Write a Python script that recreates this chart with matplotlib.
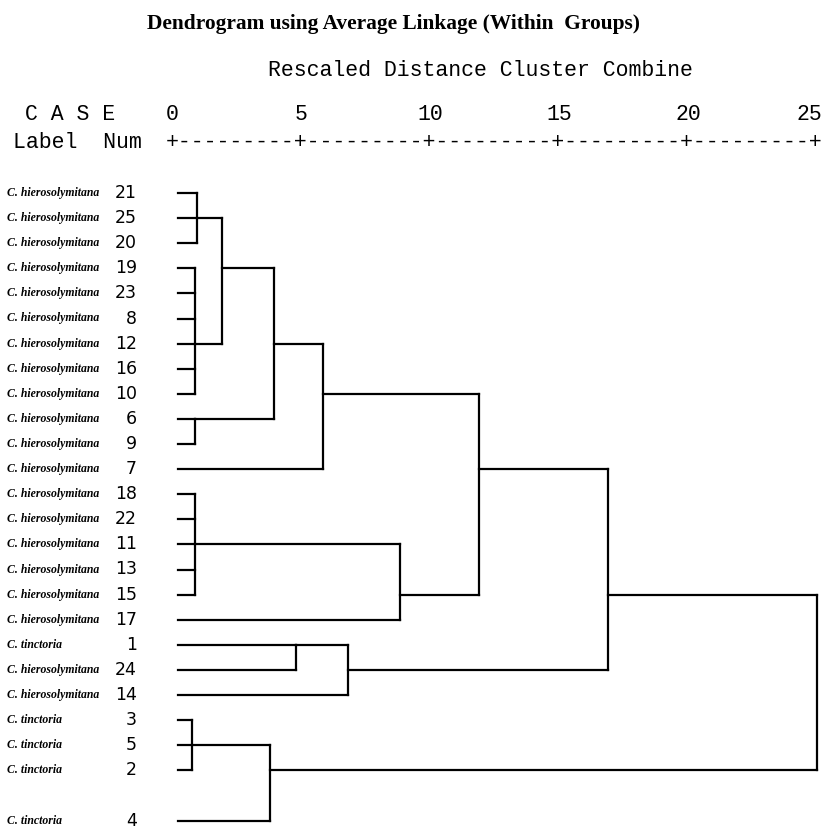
import numpy as np
import matplotlib
matplotlib.use('Agg')
import matplotlib.pyplot as plt

# leaves, top to bottom
case_nums = [21, 25, 20, 19, 23, 8, 12, 16, 10, 6, 9, 7, 18, 22, 11, 13, 15, 17,
             1, 24, 14, 3, 5, 2, 4]
HIER = 'C. hierosolymitana'
TINC = 'C. tinctoria'
case_labels = [HIER] * 18 + [TINC, HIER, HIER, TINC, TINC, TINC, TINC]

# merges: name, members (case numbers or earlier merges), rescaled distance,
# case whose row carries the joined cluster onwards
merge_names = ['A', 'B', 'AB', 'P69', 'ABP', 'C', 'D1', 'D', 'CD',
               'E1', 'E', 'CDE', 'F1', 'F', 'root']
merge_members = [[21, 25, 20], [19, 23, 8, 12, 16, 10], ['A', 'B'], [6, 9],
                 ['AB', 'P69'], ['ABP', 7], [18, 22, 11, 13, 15], ['D1', 17],
                 ['C', 'D'], [1, 24], ['E1', 14], ['CD', 'E'], [3, 5, 2],
                 ['F1', 4], ['CDE', 'F']]
merge_dist = [0.97, 0.89, 1.94, 0.89, 3.95, 5.85, 0.89, 8.84, 11.9,
              4.8, 6.82, 16.9, 0.78, 3.8, 25.0]
merge_via = [25, 12, 19, 6, 12, 10, 11, 15, 7, 1, 24, 15, 5, 2, None]

ticks = [0, 5, 10, 15, 20, 25]

W, H = 823, 831
fig = plt.figure(figsize=(W / 100, H / 100), dpi=100)
ax = fig.add_axes([0, 0, 1, 1])
ax.axis('off')

# page geometry in pixels
x0_px, x25_px = 172, 817
ppu = (x25_px - x0_px) / 25
row0_px, pitch = 193, 25.1
ax.set_xlim(-x0_px / ppu, (W - x0_px) / ppu)
ax.set_ylim((H - row0_px) / pitch, -row0_px / pitch)

def px_x(p):
    return (p - x0_px) / ppu

def px_y(p):
    return (p - row0_px) / pitch

rows = np.arange(len(case_nums), dtype=float)
rows[-1] += 1  # the scan leaves a blank line before case 4
row_of = dict(zip(case_nums, rows))

leaf_start = 0.23
lw = 1.6
pos = {c: (leaf_start, row_of[c]) for c in case_nums}
for name, members, d, via in zip(merge_names, merge_members, merge_dist, merge_via):
    ys = []
    for m in members:
        mx, my = pos[m]
        ax.plot([mx, d], [my, my], color='black', lw=lw, solid_capstyle='projecting')
        ys.append(my)
    ax.plot([d, d], [min(ys), max(ys)], color='black', lw=lw, solid_capstyle='projecting')
    if via is not None:
        pos[name] = (d, row_of[via])

mono = 'Liberation Mono'
for num, lab, r in zip(case_nums, case_labels, rows):
    ax.text(px_x(7), r, lab, ha='left', va='center', family='Liberation Serif',
            style='italic', weight='bold', size=8.5)
    ax.text(px_x(137), r, str(num), ha='right', va='center',
            family='DejaVu Sans', size=12.5)

for t in ticks:
    if t == ticks[-1]:
        ax.text(px_x(W - 1), px_y(115), str(t), ha='right', va='center',
                family=mono, size=15.5)
    else:
        ax.text(t, px_y(115), str(t), ha='center', va='center', family=mono, size=15.5)
ax.text(12.5, px_y(143), '+' + ('-' * 9 + '+') * 5, ha='center', va='center',
        family=mono, size=15.5)
ax.text(px_x(25), px_y(115), 'C A S E', ha='left', va='center', family=mono, size=15.5)
ax.text(px_x(13), px_y(143), 'Label  Num', ha='left', va='center', family=mono, size=15.5)

fig.text(268 / W, 1 - 70 / H, 'Rescaled Distance Cluster Combine', ha='left',
         va='center', family=mono, size=15.5)
fig.text(147 / W, 1 - 24 / H, 'Dendrogram using Average Linkage (Within  Groups)',
         ha='left', va='center', family='Liberation Serif', weight='bold', size=15.4)

fig.savefig('out.png', dpi=100)
